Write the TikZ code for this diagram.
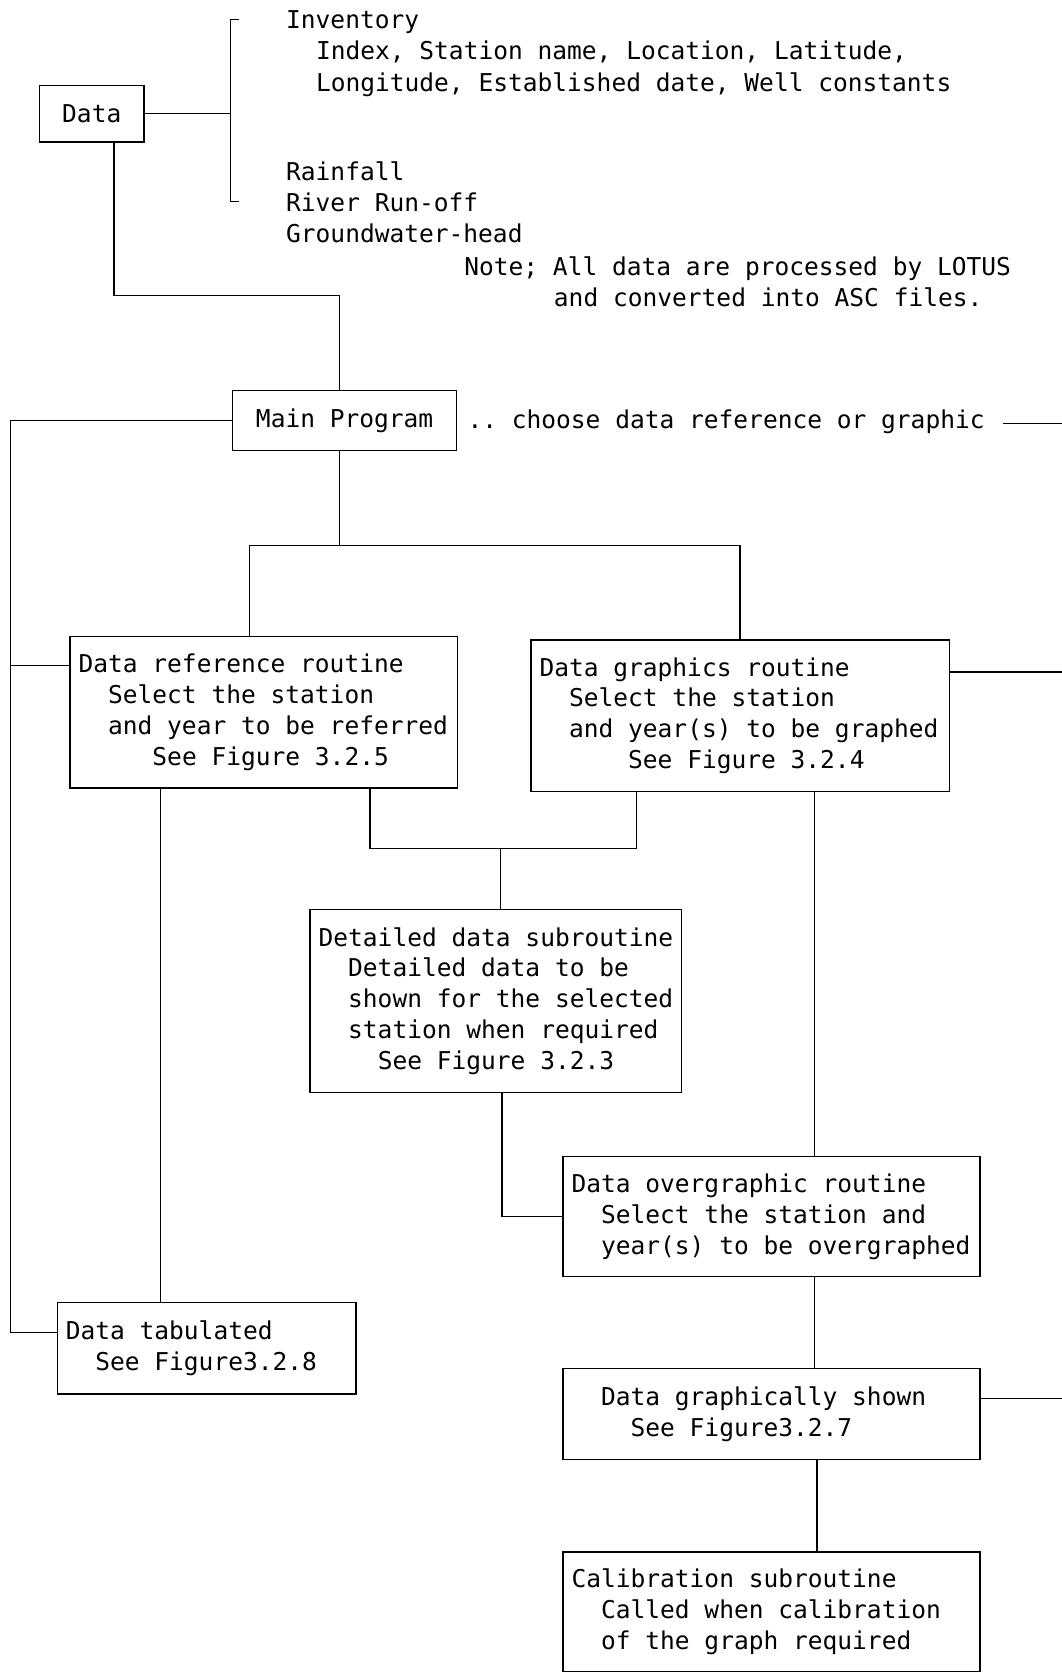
\documentclass[tikz,border=0pt]{standalone}
\usepackage{fontspec}
\setmonofont{DejaVu Sans Mono}
\newcommand\myline[2]{\mbox{\spaceskip=0pt\xspaceskip=0pt\phantom{#1}#2}}
\begin{document}
\begin{tikzpicture}[x=1pt,y=-1pt,
  every node/.style={font=\ttfamily\fontsize{23}{28.9}\selectfont, inner sep=0pt},
  wire/.style={line width=1.3pt, black},
  box/.style={draw, wire, align=left, inner xsep=8pt, inner ysep=0pt, anchor=north west,
    execute at begin node={\parindent=0pt}},
  sbox/.style={draw, wire, align=center},
  lbl/.style={anchor=base west}]
\fill[white] (0,0) rectangle (995,1568);
\useasboundingbox (0,0) rectangle (995,1568);

% --- top part
\node[sbox, minimum width=98pt, minimum height=53pt] (data) at (86,106.5) {Data};
\coordinate (bt) at (216,18);
\coordinate (bb) at (216,189);
\draw[wire] ([xshift=8pt]bt) -- (bt) -- (bb) -- ([xshift=8pt]bb);
\draw[wire] (data.east) -- (data.east -| bt);

\node[lbl] (inv)  at (268,26.5)  {Inventory};
\node[lbl] (inv1) at (296,55.5)  {Index, Station name, Location, Latitude,};
\node[lbl] (inv2) at (296,85.5)  {Longitude, Established date, Well constants};
\node[lbl] (rain) at (268,169.5) {Rainfall};
\node[lbl] (riv)  at (268,198.5) {River Run-off};
\node[lbl] (gw)   at (268,227.5) {Groundwater-head};
\node[lbl] (note1) at (435,258.5) {Note; All data are processed by LOTUS};
\node[lbl] (note2) at (519,287.5) {and converted into ASC files.};

% --- main program
\node[sbox, minimum width=210pt, minimum height=56pt] (main) at (323,394) {Main Program};
\node[lbl] (choose) at (438,402) {.. choose data reference or graphic};
\coordinate (mr) at (995,397);
\path (mr -| choose.east) coordinate (cl);
\draw[wire] ([xshift=17pt]cl) -- (mr);

\coordinate (j1) at (318,277);
\draw[wire] ([xshift=21pt]data.south) |- (j1) -- (j1 |- main.north);

% --- boxes
\node[box, text width=347pt, minimum height=142pt] (ref) at (65,596)
  {\myline{}{Data reference routine}\\
   \myline{xx}{Select the station}\\
   \myline{xx}{and year to be referred}\\
   \myline{xxxxx}{See Figure 3.2.5}};
\node[box, text width=376pt, minimum height=142pt] (gra) at (497,599)
  {\myline{}{Data graphics routine}\\
   \myline{xx}{Select the station}\\
   \myline{xx}{and year(s) to be graphed}\\
   \myline{xxxxxx}{See Figure 3.2.4}};
\node[box, text width=332pt, minimum height=171pt] (det) at (290,852)
  {\myline{}{Detailed data subroutine}\\
   \myline{xx}{Detailed data to be}\\
   \myline{xx}{shown for the selected}\\
   \myline{xx}{station when required}\\
   \myline{xxxx}{See Figure 3.2.3}};
\node[box, text width=375pt, minimum height=113pt] (over) at (527,1083)
  {\myline{}{Data overgraphic routine}\\
   \myline{xx}{Select the station and}\\
   \myline{xx}{year(s) to be overgraphed}};
\node[box, text width=264pt, minimum height=86pt] (tab) at (53,1220)
  {\myline{}{Data tabulated}\\
   \myline{xx}{See Figure3.2.8}};
\node[box, text width=375pt, minimum height=85pt] (shown) at (527,1282)
  {\myline{xx}{Data graphically shown}\\
   \myline{xxxx}{See Figure3.2.7}};
\node[box, text width=375pt, minimum height=112pt] (cal) at (527,1454)
  {\myline{}{Calibration subroutine}\\
   \myline{xx}{Called when calibration}\\
   \myline{xx}{of the graph required}};

% --- connectors
\coordinate (lx) at (10,0);
\coordinate (tabin) at ([yshift=15pt]tab.west);
\coordinate (refin) at ([yshift=44pt]ref.west);
\draw[wire] (main.west) -| (lx |- tabin) -- (tabin);
\draw[wire] (refin -| lx) -- (refin);

\coordinate (j2) at (318,511);
\draw[wire] ([xshift=-5pt]main.south) -- (j2);
\draw[wire] ([xshift=-13.5pt]ref.north) |- (j2);
\draw[wire] (gra.north) |- (j2);

\draw[wire] ([yshift=41pt]gra.east) -- ++(106,0);

\coordinate (rb1) at ([xshift=-96.5pt]ref.south);
\draw[wire] (rb1) -- (rb1 |- tab.north);

\coordinate (j3) at (469,795);
\draw[wire] ([xshift=99.5pt]ref.south) |- (j3);
\draw[wire] ([xshift=-97pt]gra.south) |- (j3);
\draw[wire] (j3) -- (j3 |- det.north);

\coordinate (gb) at ([xshift=70pt]gra.south);
\draw[wire] (gb) -- (gb |- over.north);

\draw[wire] ([xshift=6pt]det.south) |- (over.west);

\coordinate (ob) at ([xshift=40.5pt]over.south);
\draw[wire] (ob) -- (ob |- shown.north);

\draw[wire] ([yshift=14.5pt]shown.east) -- ++(77,0);

\coordinate (sb) at ([xshift=42.5pt]shown.south);
\draw[wire] (sb) -- (sb |- cal.north);
\end{tikzpicture}
\end{document}
